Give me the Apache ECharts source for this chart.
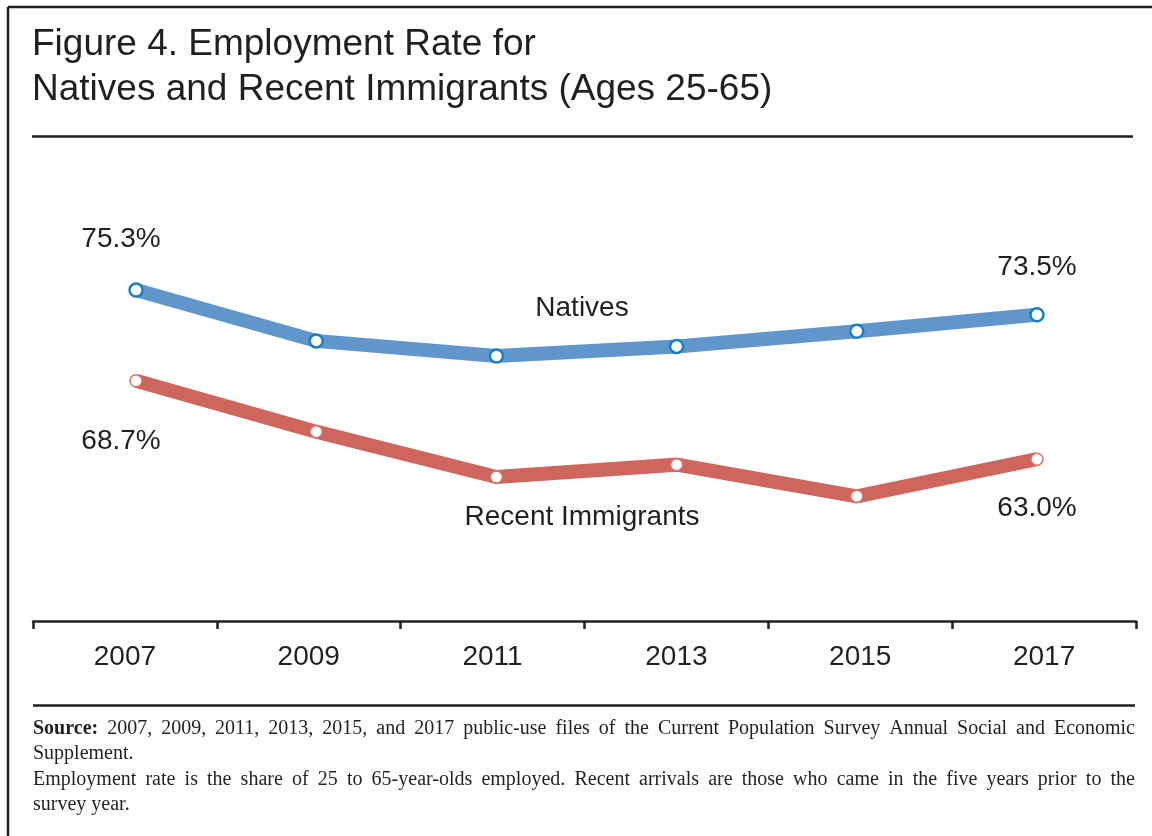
<!DOCTYPE html>
<html>
<head>
<meta charset="utf-8">
<title>Employment Rate for Natives and Recent Immigrants</title>
<script src="https://cdn.jsdelivr.net/npm/echarts@6/dist/echarts.min.js"></script>
<style>
  html, body { margin: 0; padding: 0; background: #ffffff; }
  #chart { width: 1152px; height: 836px; }
</style>
</head>
<body>
<div id="chart"></div>
<script>
// Survey years and employment rates (%), ages 25-65
const years = ['2007', '2009', '2011', '2013', '2015', '2017'];
const natives = [75.3, 71.6, 70.5, 71.2, 72.3, 73.5];
const recentImmigrants = [68.7, 65.0, 61.7, 62.6, 60.3, 63.0];

const titleLines = [
  'Figure 4. Employment Rate for',
  'Natives and Recent Immigrants (Ages 25-65)'
];
const seriesNames = ['Natives', 'Recent Immigrants'];
const sourceLines = [
  { text: 'Source: 2007, 2009, 2011, 2013, 2015, and 2017 public-use files of the Current Population Survey Annual Social and Economic', justify: true, boldFirst: true },
  { text: 'Supplement.', justify: false },
  { text: 'Employment rate is the share of 25 to 65-year-olds employed. Recent arrivals are those who came in the five years prior to the', justify: true },
  { text: 'survey year.', justify: false }
];

const INK = '#231f20';
const BLUE = '#6096cb';
const BLUE_RIM = '#1a7fc6';
const RED = '#cf665d';
const SANS = '"Liberation Sans", Arial, Helvetica, sans-serif';
const SERIF = '"Liberation Serif", "Times New Roman", serif';

const chart = echarts.init(document.getElementById('chart'), null, { renderer: 'canvas' });

// Endpoint value labels: first and last year of each series
function withEndLabels(values, pos, firstDist, lastDist) {
  return values.map((v, i) => {
    if (i === 0) {
      return { value: v, label: { show: true, position: pos, distance: firstDist, offset: [-15, 0] } };
    }
    if (i === values.length - 1) {
      return { value: v, label: { show: true, position: pos, distance: lastDist } };
    }
    return v;
  });
}

// Justified footnote text, one text element per word
const measureCtx = document.createElement('canvas').getContext('2d');
function fontOf(size, bold, family) {
  return (bold ? 'bold ' : '') + size + 'px ' + family;
}
function footnoteElements(lines, left, right, firstMid, lineGap, size) {
  const els = [];
  lines.forEach((ln, li) => {
    const words = ln.text.split(' ');
    const widths = words.map((w, wi) => {
      measureCtx.font = fontOf(size, ln.boldFirst && wi === 0, SERIF);
      return measureCtx.measureText(w).width;
    });
    measureCtx.font = fontOf(size, false, SERIF);
    const spaceW = measureCtx.measureText(' ').width;
    const total = widths.reduce((a, b) => a + b, 0);
    let gap = spaceW;
    if (ln.justify && words.length > 1) {
      gap = (right - left - total) / (words.length - 1);
    }
    let x = left;
    const y = firstMid + li * lineGap;
    words.forEach((w, wi) => {
      els.push({
        type: 'text', x: x, y: y, silent: true,
        style: {
          text: w, fill: INK,
          font: fontOf(size, ln.boldFirst && wi === 0, SERIF),
          textAlign: 'left', textVerticalAlign: 'middle',
          align: 'left', verticalAlign: 'middle'
        }
      });
      x += widths[wi] + gap;
    });
  });
  return els;
}

function rule(x1, y1, x2, y2, w) {
  return { type: 'line', silent: true, shape: { x1, y1, x2, y2 }, style: { stroke: INK, lineWidth: w } };
}
function label(text, x, y, size, align) {
  return {
    type: 'text', x: x, y: y, silent: true,
    style: {
      text: text, fill: INK, font: size + 'px ' + SANS,
      textAlign: align, textVerticalAlign: 'middle',
      align: align, verticalAlign: 'middle'
    }
  };
}

const graphics = [
  // frame
  rule(8, 7, 1152, 7, 2.5),
  rule(8, 7, 8, 836, 2.5),
  // title
  label(titleLines[0], 32, 45, 37, 'left'),
  label(titleLines[1], 32, 90, 37, 'left'),
  rule(32, 136.5, 1133, 136.5, 2.5),
  // series names
  label(seriesNames[0], 582, 308, 28, 'center'),
  label(seriesNames[1], 582, 517, 28, 'center'),
  // rule above footnotes
  rule(33, 705.5, 1135, 705.5, 2.5)
].concat(footnoteElements(sourceLines, 33, 1135, 729, 25.2, 20));

const option = {
  animation: false,
  backgroundColor: '#ffffff',
  textStyle: { fontFamily: SANS, color: INK },
  grid: [
    // category axis with ticks and year labels
    { left: 33, right: 16, top: 200, bottom: 215, containLabel: false },
    // plotting area for the two lines
    { left: 136, right: 115, top: 225.4, height: 343.75, containLabel: false }
  ],
  xAxis: [
    {
      type: 'category', gridIndex: 0, data: years, boundaryGap: true,
      axisLine: { show: true, lineStyle: { color: INK, width: 2.5 } },
      axisTick: { show: true, length: 8, lineStyle: { color: INK, width: 2.5 } },
      axisLabel: { fontSize: 28, color: INK, fontFamily: SANS, margin: 22 },
      splitLine: { show: false }
    },
    {
      type: 'category', gridIndex: 1, data: years, boundaryGap: false,
      axisLine: { show: false }, axisTick: { show: false },
      axisLabel: { show: false }, splitLine: { show: false }
    }
  ],
  yAxis: [
    {
      type: 'value', gridIndex: 0, show: false, min: 0, max: 1,
      splitLine: { show: false }
    },
    {
      type: 'value', gridIndex: 1, show: false, min: 55, max: 80,
      splitLine: { show: false }
    }
  ],
  series: [
    {
      name: seriesNames[0], type: 'line', xAxisIndex: 1, yAxisIndex: 1,
      data: withEndLabels(natives, 'top', 29, 26),
      lineStyle: { color: BLUE, width: 14, join: 'miter' },
      symbol: 'circle', symbolSize: 13,
      itemStyle: { color: '#ffffff', borderColor: BLUE_RIM, borderWidth: 2.5 },
      label: {
        show: false, fontSize: 28, color: INK, fontFamily: SANS,
        formatter: p => p.value.toFixed(1) + '%'
      },
      emphasis: { disabled: true }, z: 3
    },
    {
      name: seriesNames[1], type: 'line', xAxisIndex: 1, yAxisIndex: 1,
      data: withEndLabels(recentImmigrants, 'bottom', 40, 28.5),
      lineStyle: { color: RED, width: 14, join: 'miter' },
      symbol: 'circle', symbolSize: 12,
      itemStyle: { color: '#ffffff', borderColor: '#d8756c', borderWidth: 1.5 },
      label: {
        show: false, fontSize: 28, color: INK, fontFamily: SANS,
        formatter: p => p.value.toFixed(1) + '%'
      },
      emphasis: { disabled: true }, z: 3
    }
  ],
  graphic: graphics
};

chart.setOption(option);
</script>
</body>
</html>
